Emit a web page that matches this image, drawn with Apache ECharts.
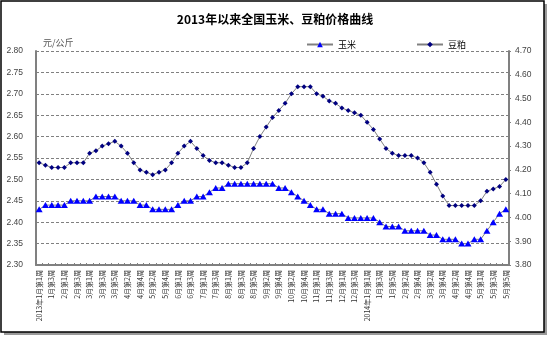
<!DOCTYPE html>
<html>
<head>
<meta charset="utf-8">
<script src="https://cdn.jsdelivr.net/npm/echarts@6/dist/echarts.min.js"></script>
<style>
  html, body { margin: 0; padding: 0; background: #ffffff; }
  #chart { width: 550px; height: 340px; }
</style>
</head>
<body>
<div id="chart"></div>
<script>
// Weekly categories, 2013 week 1 through 2014 May
const weeks = [
  '2013年1月第1周','1月第2周','1月第3周','1月第4周',
  '2月第1周','2月第2周','2月第3周','2月第4周',
  '3月第1周','3月第2周','3月第3周','3月第4周','3月第5周',
  '4月第1周','4月第2周','4月第3周','4月第4周',
  '5月第1周','5月第2周','5月第3周','5月第4周','5月第5周',
  '6月第1周','6月第2周','6月第3周','6月第4周',
  '7月第1周','7月第2周','7月第3周','7月第4周',
  '8月第1周','8月第2周','8月第3周','8月第4周','8月第5周',
  '9月第1周','9月第2周','9月第3周','9月第4周',
  '10月第1周','10月第2周','10月第3周','10月第4周','10月第5周',
  '11月第1周','11月第2周','11月第3周','11月第4周',
  '12月第1周','12月第2周','12月第3周','12月第4周',
  '2014年1月第1周','1月第2周','1月第3周','1月第4周','1月第5周',
  '2月第1周','2月第2周','2月第3周','2月第4周',
  '3月第1周','3月第2周','3月第3周','3月第4周',
  '4月第1周','4月第2周','4月第3周','4月第4周','4月第5周',
  '5月第1周','5月第2周','5月第3周','5月第4周','5月第5周'
];

// Corn price, yuan/kg (left axis)
const corn = [
  2.43, 2.44, 2.44, 2.44, 2.44, 2.45, 2.45, 2.45, 2.45, 2.46,
  2.46, 2.46, 2.46, 2.45, 2.45, 2.45, 2.44, 2.44, 2.43, 2.43,
  2.43, 2.43, 2.44, 2.45, 2.45, 2.46, 2.46, 2.47, 2.48, 2.48,
  2.49, 2.49, 2.49, 2.49, 2.49, 2.49, 2.49, 2.49, 2.48, 2.48,
  2.47, 2.46, 2.45, 2.44, 2.43, 2.43, 2.42, 2.42, 2.42, 2.41,
  2.41, 2.41, 2.41, 2.41, 2.40, 2.39, 2.39, 2.39, 2.38, 2.38,
  2.38, 2.38, 2.37, 2.37, 2.36, 2.36, 2.36, 2.35, 2.35, 2.36,
  2.36, 2.38, 2.40, 2.42, 2.43
];

// Soybean meal price, yuan/kg (right axis)
const meal = [
  4.23, 4.22, 4.21, 4.21, 4.21, 4.23, 4.23, 4.23, 4.27, 4.28,
  4.30, 4.31, 4.32, 4.30, 4.27, 4.23, 4.20, 4.19, 4.18, 4.19,
  4.20, 4.23, 4.27, 4.30, 4.32, 4.29, 4.26, 4.24, 4.23, 4.23,
  4.22, 4.21, 4.21, 4.23, 4.29, 4.34, 4.38, 4.42, 4.45, 4.48,
  4.52, 4.55, 4.55, 4.55, 4.52, 4.51, 4.49, 4.48, 4.46, 4.45,
  4.44, 4.43, 4.40, 4.37, 4.33, 4.29, 4.27, 4.26, 4.26, 4.26,
  4.25, 4.23, 4.19, 4.14, 4.09, 4.05, 4.05, 4.05, 4.05, 4.05,
  4.07, 4.11, 4.12, 4.13, 4.16
];

const chartTitle = '2013年以来全国玉米、豆粕价格曲线';
const unitText = '元/公斤';
const seriesNames = ['玉米', '豆粕'];

const cjk = '"Noto Sans CJK SC", "Liberation Sans", sans-serif';
const axisGray = '#808080';

const chart = echarts.init(document.getElementById('chart'), null, { renderer: 'canvas' });

chart.setOption({
  backgroundColor: '#ffffff',
  animation: false,
  graphic: [
    { type: 'rect', z: -10, shape: { x: 4, y: 4, width: 543, height: 331 }, style: { fill: '#9a9a9a' } },
    { type: 'rect', z: -9, shape: { x: 1, y: 1, width: 543, height: 331 }, style: { fill: '#ffffff', stroke: '#000000', lineWidth: 1.5 } },
    { type: 'text', left: 43, top: 38, style: { text: unitText, font: '9px ' + cjk, fill: '#555555' } }
  ],
  title: {
    text: chartTitle,
    left: 'center',
    top: 8,
    textStyle: { fontFamily: cjk, fontSize: 12, fontWeight: 'bold', color: '#000000' }
  },
  legend: {
    top: 35,
    left: 301,
    itemWidth: 26,
    itemHeight: 7,
    itemGap: 60,
    textStyle: { fontFamily: cjk, fontSize: 9, color: '#000000' },
    data: seriesNames
  },
  grid: { left: 36, right: 41, top: 51, bottom: 75 },
  xAxis: {
    type: 'category',
    data: weeks,
    boundaryGap: true,
    axisLine: { lineStyle: { color: axisGray, width: 2 } },
    axisTick: { show: true, inside: true, length: 2, interval: 0, lineStyle: { color: axisGray } },
    axisLabel: {
      interval: 1,
      rotate: 90,
      margin: 5,
      fontFamily: cjk,
      fontSize: 7,
      color: '#333333'
    }
  },
  yAxis: [
    {
      type: 'value',
      min: 2.30,
      max: 2.80,
      interval: 0.05,
      position: 'left',
      axisLine: { show: true, lineStyle: { color: axisGray, width: 2 } },
      axisTick: { show: false },
      axisLabel: {
        margin: 13,
        fontFamily: '"Liberation Sans", sans-serif',
        fontSize: 8.5,
        color: '#444444',
        formatter: v => v.toFixed(2)
      },
      splitLine: { show: true, lineStyle: { color: axisGray, width: 1.2, type: [3, 2] } }
    },
    {
      type: 'value',
      min: 3.80,
      max: 4.70,
      interval: 0.10,
      position: 'right',
      axisLine: { show: true, lineStyle: { color: axisGray, width: 2 } },
      axisTick: { show: true, length: 2, lineStyle: { color: axisGray } },
      axisLabel: {
        margin: 6,
        fontFamily: '"Liberation Sans", sans-serif',
        fontSize: 8.5,
        color: '#444444',
        formatter: v => v.toFixed(2)
      },
      splitLine: { show: false }
    }
  ],
  series: [
    {
      name: seriesNames[0],
      type: 'line',
      yAxisIndex: 0,
      data: corn,
      symbol: 'triangle',
      symbolSize: [7, 6],
      showAllSymbol: true,
      lineStyle: { color: axisGray, width: 1 },
      itemStyle: { color: '#0000ff', borderWidth: 0 }
    },
    {
      name: seriesNames[1],
      type: 'line',
      yAxisIndex: 1,
      data: meal,
      symbol: 'diamond',
      symbolSize: 5,
      showAllSymbol: true,
      lineStyle: { color: axisGray, width: 1 },
      itemStyle: { color: '#000080', borderWidth: 0 }
    }
  ]
});
</script>
</body>
</html>
